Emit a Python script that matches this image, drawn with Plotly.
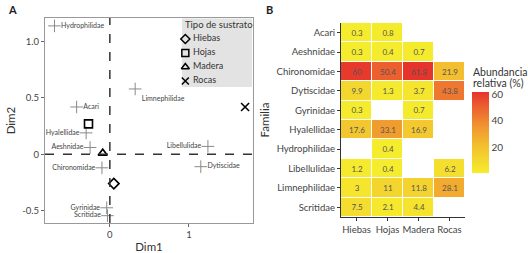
import plotly.graph_objects as go

# ---------- Panel A data ----------
fam_names = ["Hydrophilidae", "Acari", "Limnephilidae", "Hyalellidae", "Aeshnidae",
             "Libellulidae", "Dytiscidae", "Chironomidae", "Gyrinidae", "Scritidae"]
fam_dim1 = [-0.70, -0.42, 0.32, -0.30, -0.25, 1.24, 1.15, -0.10, -0.04, -0.03]
fam_dim2 = [1.14, 0.42, 0.58, 0.19, 0.06, 0.07, -0.11, -0.12, -0.475, -0.545]
fam_textpos = ["middle right", "middle right", "bottom right", "middle left", "middle left",
               "middle left", "middle right", "middle left", "middle left", "middle left"]

sub_names = ["Hiebas", "Hojas", "Madera", "Rocas"]
sub_dim1 = [0.05, -0.27, -0.09, 1.71]
sub_dim2 = [-0.26, 0.27, 0.01, 0.42]
sub_symbols = ["diamond-open", "square-open", "triangle-up-open", "x-thin-open"]

# ---------- Panel B data ----------
families = ["Acari", "Aeshnidae", "Chironomidae", "Dytiscidae", "Gyrinidae",
            "Hyalellidae", "Hydrophilidae", "Libellulidae", "Limnephilidae", "Scritidae"]
substrates = ["Hiebas", "Hojas", "Madera", "Rocas"]
abundance = [
    [0.3, 0.8, None, None],
    [0.3, 0.4, 0.7, None],
    [60, 50.4, 61.8, 21.9],
    [9.9, 1.3, 3.7, 43.8],
    [0.3, None, 0.7, None],
    [17.6, 33.1, 16.9, None],
    [None, 0.4, None, None],
    [1.2, 0.4, None, 6.2],
    [3, 11, 11.8, 28.1],
    [7.5, 2.1, 4.4, None],
]
cbar_ticks = [20, 40, 60]

W, H = 528, 253
def px(x): return x / W
def py(y): return 1 - y / H

FONT = "Lato"
fig = go.Figure()

# Panel A traces
fig.add_trace(go.Scatter(
    x=fam_dim1, y=fam_dim2, mode="markers+text", text=fam_names,
    textposition=fam_textpos, textfont=dict(size=7, color="#444", family=FONT),
    marker=dict(symbol="cross-thin-open", size=9, color="#8a8a8a",
                line=dict(color="#8a8a8a", width=1)),
    showlegend=False, xaxis="x", yaxis="y", cliponaxis=False))

fig.add_trace(go.Scatter(
    x=sub_dim1, y=sub_dim2, mode="markers",
    marker=dict(symbol=sub_symbols, size=8, color="black", line=dict(color="black", width=1.6)),
    showlegend=False, xaxis="x", yaxis="y"))

# Manual legend (compact, like ggplot) on a hidden axis
fig.add_trace(go.Scatter(
    x=[0] * len(sub_names), y=list(range(len(sub_names))), mode="markers+text",
    text=[" " + s for s in sub_names], textposition="middle right",
    textfont=dict(size=9, color="#333", family=FONT),
    marker=dict(symbol=sub_symbols, size=7, color="black", line=dict(color="black", width=1.5)),
    showlegend=False, xaxis="x3", yaxis="y3", cliponaxis=False))

# Panel B heatmap
text = [["" if v is None else (str(v)) for v in row] for row in abundance]
fig.add_trace(go.Heatmap(
    z=abundance, x=substrates, y=families, text=text, texttemplate="%{text}",
    textfont=dict(size=8, color="#555", family=FONT),
    xgap=1, ygap=1, zmin=0.3, zmax=61.8,
    colorscale=[[0, "#F5EC2D"], [0.35, "#F3BE2F"], [0.6, "#F0902F"], [0.8, "#EC6430"], [1, "#E6332C"]],
    colorbar=dict(x=px(472), xanchor="left", y=py(132.5), yanchor="middle",
                  len=(173 - 92) / H, lenmode="fraction", thickness=17, outlinewidth=0,
                  xpad=0, ypad=0,
                  tickvals=cbar_ticks, ticks="", tickfont=dict(size=10, color="#444", family=FONT)),
    xaxis="x2", yaxis="y2", showscale=True, hoverongaps=False))

fig.add_shape(type="line", xref="x", yref="paper", x0=0, x1=0, y0=py(223), y1=py(18),
              line=dict(color="#333", width=1.5, dash="dash"))
fig.add_shape(type="line", xref="paper", yref="y", x0=px(45), x1=px(253), y0=0, y1=0,
              line=dict(color="#333", width=1.5, dash="dash"))
# legend box
fig.add_shape(type="rect", xref="paper", yref="paper", x0=px(182), x1=px(252), y0=py(87), y1=py(18.5),
              fillcolor="#E3E3E3", line=dict(width=0), layer="below")

fig.update_layout(
    width=W, height=H, margin=dict(l=0, r=0, t=0, b=0, autoexpand=False),
    paper_bgcolor="white", plot_bgcolor="rgba(0,0,0,0)",
    font=dict(family=FONT, color="#444"),
    xaxis=dict(domain=[px(45), px(253)], range=[-0.82, 1.81], tickvals=[0, 1],
               showgrid=False, zeroline=False, showline=True, mirror=True, linecolor="#999",
               linewidth=1, ticks="outside", ticklen=3, tickcolor="#666",
               tickfont=dict(size=9.5, color="#444"),
               title=dict(text="Dim1", font=dict(size=11.5, color="#333"), standoff=4)),
    yaxis=dict(domain=[py(223), py(18)], range=[-0.61, 1.21], tickvals=[-0.5, 0, 0.5, 1.0],
               ticktext=["-0.5", "0", "0.5", "1.0"],
               showgrid=False, zeroline=False, showline=True, mirror=True, linecolor="#999",
               linewidth=1, ticks="outside", ticklen=3, tickcolor="#666",
               tickfont=dict(size=9.5, color="#444"),
               title=dict(text="Dim2", font=dict(size=11.5, color="#333"), standoff=4)),
    xaxis3=dict(domain=[px(182), px(252)], range=[-0.05, 1], visible=False, fixedrange=True,
                anchor="y3"),
    yaxis3=dict(domain=[py(88), py(32)], range=[3.5, -0.5], visible=False, fixedrange=True,
                anchor="x3"),
    xaxis2=dict(domain=[px(341), px(465)], showgrid=False, zeroline=False, showline=True,
                linecolor="#333", linewidth=1.2, ticks="outside", ticklen=3, tickcolor="#333",
                tickfont=dict(size=9.5, color="#444"), anchor="y2"),
    yaxis2=dict(domain=[py(217), py(23)], autorange="reversed", showgrid=False, zeroline=False,
                showline=True, linecolor="#333", linewidth=1.2, ticks="outside", ticklen=3,
                tickcolor="#333", tickfont=dict(size=9.5, color="#444"), anchor="x2",
                title=dict(text="Familia", font=dict(size=11.5, color="#333"), standoff=4)),
    annotations=[
        dict(text="<b>A</b>", x=px(6), y=py(10), xref="paper", yref="paper",
             xanchor="left", yanchor="middle", showarrow=False, font=dict(size=11, color="#222")),
        dict(text="<b>B</b>", x=px(264), y=py(10), xref="paper", yref="paper",
             xanchor="left", yanchor="middle", showarrow=False, font=dict(size=11, color="#222")),
        dict(text="Tipo de sustrato", x=px(183), y=py(25), xref="paper", yref="paper",
             xanchor="left", yanchor="middle", showarrow=False, font=dict(size=9.5, color="#333")),
        dict(text="Abundancia", x=px(471), y=py(72), xref="paper", yref="paper",
             xanchor="left", yanchor="middle", showarrow=False, font=dict(size=10.5, color="#333")),
        dict(text="relativa (%)", x=px(471), y=py(83), xref="paper", yref="paper",
             xanchor="left", yanchor="middle", showarrow=False, font=dict(size=10.5, color="#333")),
    ],
)

fig.write_html("out.html", config={"displayModeBar": False},
               post_script="document.body.style.margin='0';document.body.style.padding='0';")
